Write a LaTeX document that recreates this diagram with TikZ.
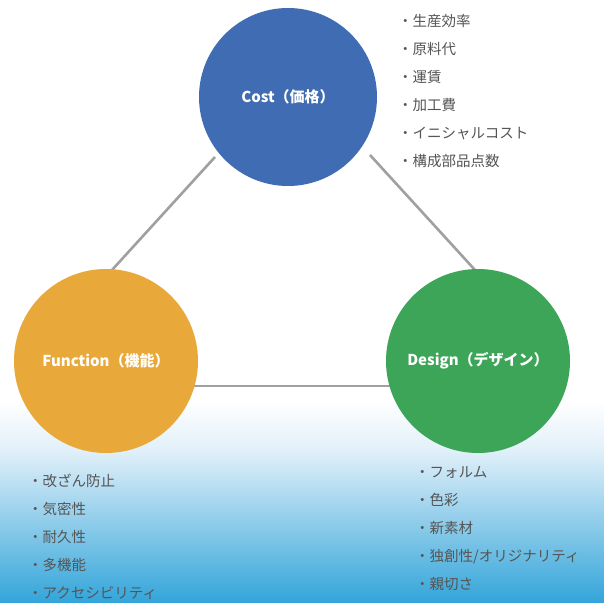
\documentclass[tikz,border=0pt]{standalone}
\usepackage{fontspec}
\setmainfont{Noto Sans CJK JP}
\definecolor{costblue}{RGB}{64,108,180}
\definecolor{funcorange}{RGB}{233,169,58}
\definecolor{desgreen}{RGB}{60,165,88}
\definecolor{linegray}{RGB}{160,160,160}
\definecolor{txtgray}{RGB}{85,85,85}
\definecolor{skyA}{RGB}{225,240,249}
\definecolor{skyB}{RGB}{52,165,218}
\begin{document}
\begin{tikzpicture}[x=1pt,y=-1pt,
  circ/.style={circle,minimum size=#1,inner sep=0pt,text=white,font=\bfseries\fontsize{15}{17}\selectfont},
  lst/.style={anchor=north west,align=left,text=txtgray,font=\fontsize{14.5}{28}\selectfont,inner sep=0pt},
  conn/.style={draw=linegray,line width=2.6pt}]
\useasboundingbox (0,0) rectangle (604,602);
\fill[white] (0,0) rectangle (604,602);
\shade[top color=white,bottom color=skyA] (0,400) rectangle (604,450);
\shade[top color=skyA,bottom color=skyB] (0,450) rectangle (604,602);
% connector anchor points
\coordinate (fl) at (112,270);
\coordinate (ct) at (215,157);
\coordinate (cr) at (370,155);
\coordinate (dl) at (475,270);
\coordinate (fh) at (190,386);
\coordinate (dh) at (390,386);
\draw[conn] (ct) -- (fl);
\draw[conn] (cr) -- (dl);
\draw[conn] (fh) -- (dh);
\node[circ=178pt,fill=costblue] (cost) at (288,97) {Cost（価格）};
\node[circ=184pt,fill=funcorange] (func) at (106,361) {Function（機能）};
\node[circ=184pt,fill=desgreen] (des) at (478,361) {Design（デザイン）};
\node[lst] (costlist) at (398,14) {・生産効率\\・原料代\\・運賃\\・加工費\\・イニシャルコスト\\・構成部品点数};
\node[lst] (funclist) at (28,474) {・改ざん防止\\・気密性\\・耐久性\\・多機能\\・アクセシビリティ};
\node[lst] (deslist) at (415,466) {・フォルム\\・色彩\\・新素材\\・独創性/オリジナリティ\\・親切さ};
\end{tikzpicture}
\end{document}
